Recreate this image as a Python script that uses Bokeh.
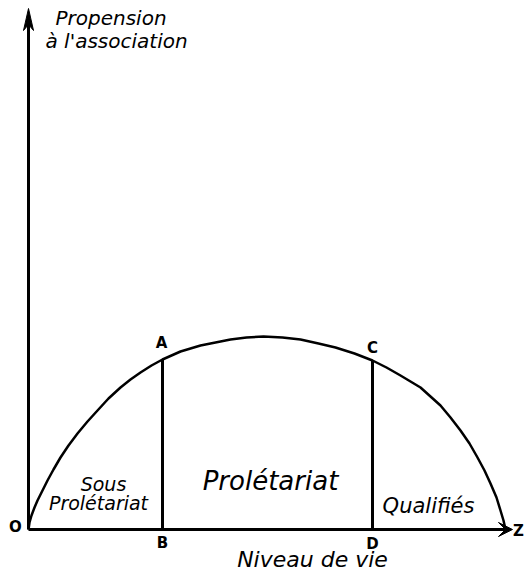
from bokeh.plotting import figure
from bokeh.models import Range1d, Arrow, VeeHead
from bokeh.core.properties import value
from bokeh.embed import file_html
from bokeh.resources import INLINE

# Curve "propension à l'association" vs "niveau de vie"
curve_x = [0, 1, 3, 6, 9, 14, 19, 25, 32, 40, 49, 59, 69, 80, 92, 102, 112,
           123, 134, 152, 172, 187, 202, 218, 235, 254, 272, 290, 307, 326,
           344, 358, 372, 382, 392, 402, 412, 422, 432, 441, 449, 456, 462,
           468, 472, 475, 477]
curve_y = [0, 7, 14, 22, 29, 39, 49, 60, 72, 84, 96, 108, 119, 131, 142, 150,
           157, 164, 170, 178, 184, 187, 190, 192, 193, 192, 190, 186, 182, 176,
           169, 162, 154, 148, 142, 133, 124, 112, 99, 86, 72, 59, 46, 32, 19,
           9, 0]

# Class boundaries on the "niveau de vie" axis
boundary_x = [134, 344]
boundary_top = [170, 169]
top_labels = ["A", "C"]
bottom_labels = ["B", "D"]

zones = ["Sous", "Prolétariat", "Prolétariat", "Qualifiés"]
y_title = ["Propension", "à l'association"]
x_title = "Niveau de vie"

# axis extents
x_axis_end = 484
y_axis_end = 521

W, H = 525, 572
p = figure(width=W, height=H, output_backend="svg", toolbar_location=None,
           x_range=Range1d(-28, -28 + W), y_range=Range1d(529 - H, 529),
           min_border=0)
p.axis.visible = False
p.grid.visible = False
p.outline_line_color = None
p.background_fill_color = "white"

# vertical axis with narrow arrow head
p.segment(x0=[0], y0=[0], x1=[0], y1=[y_axis_end - 12], line_width=3,
          line_color="black")
p.patch(x=[0, -5, 0, 5], y=[y_axis_end, y_axis_end - 22, y_axis_end - 16,
                             y_axis_end - 22],
        fill_color="black", line_color="black", line_width=1)
# horizontal axis
p.add_layout(Arrow(x_start=0, y_start=0, x_end=x_axis_end, y_end=0, line_width=3,
                   line_color="black",
                   end=VeeHead(size=14, fill_color="black", line_color="black",
                               line_width=1)))

# curve
p.line(curve_x, curve_y, line_width=2.5, line_color="black", line_join="round")

# boundaries
p.segment(x0=boundary_x, y0=[0, 0], x1=boundary_x, y1=boundary_top,
          line_width=3, line_color="black")

hand = value("DejaVu Sans")
bold = value("DejaVu Sans")

# point letters
p.text(x=[boundary_x[0] - 1, boundary_x[1]],
       y=[boundary_top[0] + 17, boundary_top[1] + 13],
       text=top_labels, text_font=bold, text_font_style="bold",
       text_font_size="15px", text_align="center", text_baseline="middle")
p.text(x=boundary_x, y=[-13, -14], text=bottom_labels, text_font=bold,
       text_font_style="bold", text_font_size="15px", text_align="center",
       text_baseline="middle")
p.text(x=[-13], y=[3], text=["O"], text_font=bold, text_font_style="bold",
       text_font_size="15px", text_align="center", text_baseline="middle")
p.text(x=[490], y=[-1], text=["Z"], text_font=bold, text_font_style="bold",
       text_font_size="15px", text_align="center", text_baseline="middle")

# zone labels
p.text(x=[75, 70], y=[46, 27], text=[zones[0], zones[1]], text_font=hand,
       text_font_style="italic", text_font_size="19px", text_align="center",
       text_baseline="middle")
p.text(x=[242], y=[49], text=[zones[2]], text_font=hand,
       text_font_style="italic", text_font_size="26px", text_align="center",
       text_baseline="middle")
p.text(x=[400], y=[24], text=[zones[3]], text_font=hand,
       text_font_style="italic", text_font_size="21px", text_align="center",
       text_baseline="middle")

# axis titles
p.text(x=[27, 17], y=[512, 489], text=y_title, text_font=hand,
       text_font_style="italic", text_font_size="20px", text_align="left",
       text_baseline="middle")
p.text(x=[284], y=[-30], text=[x_title], text_font=hand,
       text_font_style="italic", text_font_size="22px", text_align="center",
       text_baseline="middle")

open("out.html", "w").write(file_html(p, INLINE))
